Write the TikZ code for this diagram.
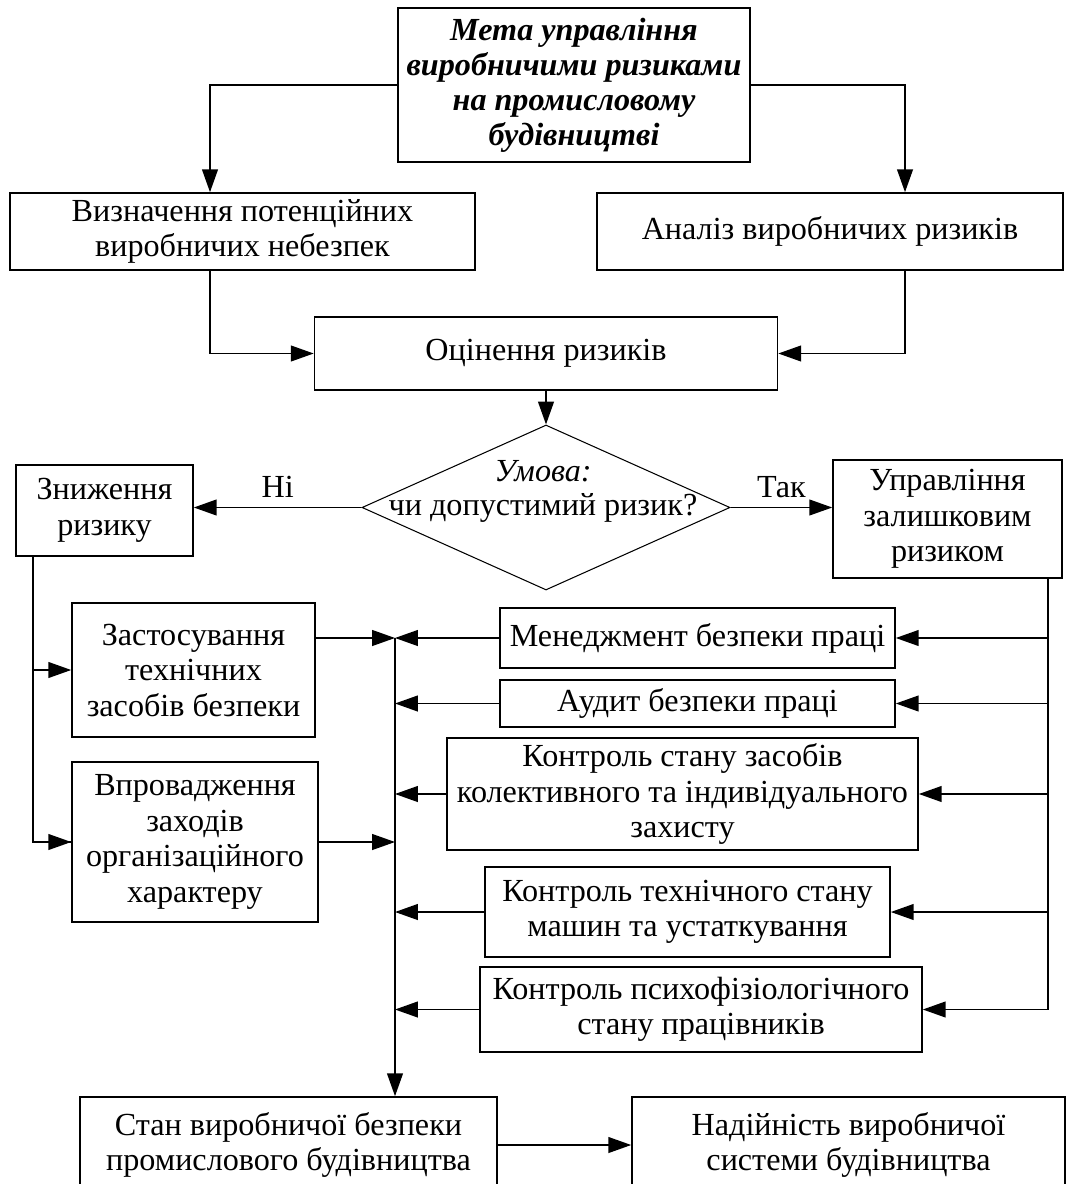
\documentclass[tikz,border=0pt]{standalone}
\usepackage{fontspec}
\setmainfont{Liberation Serif}
\usetikzlibrary{arrows.meta,shapes.geometric,positioning}

\begin{document}
\begin{tikzpicture}[>={Triangle[length=13pt,width=9pt]}, line width=0.9pt,
    font=\fontsize{18.3}{20.2}\selectfont]
  \tikzstyle{block}=[draw, rectangle, align=center, inner sep=0pt]
  \useasboundingbox (0,0) rectangle (21.54,-23.68);
  \clip (0,0) rectangle (21.54,-23.68);

  \node[block, minimum width=7.04cm, minimum height=3.08cm,
        font=\fontsize{18.3}{19.9}\selectfont\bfseries\itshape] (goal) at (11.48,-1.70)
        {Мета управління\\виробничими ризиками\\на промисловому\\будівництві};
  \node[block, minimum width=9.3cm,  minimum height=1.54cm] (vyzn)   at (4.85,-4.63)
        {Визначення потенційних\\виробничих небезпек};
  \node[block, minimum width=9.32cm, minimum height=1.54cm] (analiz) at (16.6,-4.63)
        {Аналіз виробничих ризиків};
  \node[block, minimum width=9.26cm, minimum height=1.46cm] (otsin)  at (10.92,-7.07)
        {Оцінення ризиків};

  \node[draw, diamond, minimum width=7.36cm, minimum height=3.3cm, inner sep=0pt,
        line width=0.6pt] (cond) at (10.92,-10.15) {};
  \node[font=\fontsize{18.3}{20.2}\selectfont\itshape] (condhead) at (10.86,-9.42) {Умова:};
  \node (condtext) at (10.86,-10.16) {чи допустимий ризик?};

  \node[block, minimum width=3.54cm, minimum height=1.82cm] (znyzh)  at (2.09,-10.21)
        {Зниження\\ризику};
  \node[block, minimum width=4.58cm, minimum height=2.36cm] (upr)    at (18.95,-10.38)
        {Управління\\залишковим\\ризиком};

  \node[block, minimum width=4.86cm, minimum height=2.68cm] (zast)   at (3.87,-13.4)
        {Застосування\\технічних\\засобів безпеки};
  \node[block, minimum width=4.92cm, minimum height=3.2cm]  (vpr)    at (3.9,-16.84)
        {Впровадження\\заходів\\організаційного\\характеру};

  \node[block, minimum width=7.9cm,  minimum height=1.2cm]  (menedzh) at (13.95,-12.76)
        {Менеджмент безпеки праці};
  \node[block, minimum width=7.9cm,  minimum height=0.94cm] (audyt)   at (13.95,-14.07)
        {Аудит безпеки праці};
  \node[block, minimum width=9.42cm, minimum height=2.24cm] (kzakh)   at (13.65,-15.88)
        {Контроль стану засобів\\колективного та індивідуального\\захисту};
  \node[block, minimum width=8.1cm,  minimum height=1.8cm]  (ktekh)   at (13.75,-18.24)
        {Контроль технічного стану\\машин та устаткування};
  \node[block, minimum width=8.84cm, minimum height=1.7cm]  (kpsykh)  at (14.02,-20.19)
        {Контроль психофізіологічного\\стану працівників};

  \node[block, minimum width=8.34cm, minimum height=1.92cm] (stan)   at (5.77,-22.9)
        {Стан виробничої безпеки\\промислового будівництва};
  \node[block, minimum width=8.66cm, minimum height=1.92cm] (nadiin) at (16.97,-22.9)
        {Надійність виробничої\\системи будівництва};

  \coordinate (lx) at (4.2,0);
  \coordinate (rx) at (18.1,0);
  \coordinate (ltrunk) at (0.66,0);
  \coordinate (spine) at (7.9,0);
  \coordinate (rtrunk) at (20.96,0);

  \draw[->] (goal.west) -| (lx |- vyzn.north);
  \draw[->] (goal.east) -| (rx |- analiz.north);
  \draw[->] (lx |- vyzn.south) |- (otsin.west);
  \draw[->] (rx |- analiz.south) |- (otsin.east);
  \draw[->] (otsin.south) -- (cond.north);

  \draw[->] (cond.west) -- (cond.west -| znyzh.east)
        node[pos=0.5, above=2pt] (no) {Ні};
  \draw[->] (cond.east) -- (cond.east -| upr.west)
        node[pos=0.5, above=2pt] (yes) {Так};

  \draw (ltrunk |- znyzh.south) |- (vpr.west);
  \draw[->] (ltrunk |- vpr.west) -- (vpr.west);
  \draw[->] (ltrunk |- zast.west) -- (zast.west);

  \draw[->] (zast.east |- menedzh.west) -- (spine |- menedzh.west);
  \draw[->] (vpr.east) -- (spine |- vpr.east);
  \draw[->] (spine |- menedzh.west) -- (spine |- stan.north);

  \draw (rtrunk |- upr.south) -- (rtrunk |- kpsykh.east);
  \foreach \n in {menedzh,audyt,kzakh,ktekh,kpsykh} {
    \draw[->] (rtrunk |- \n.east) -- (\n.east);
    \draw[->] (\n.west) -- (spine |- \n.west);
  }

  \draw[->] (stan.east) -- (nadiin.west);
\end{tikzpicture}
\end{document}
